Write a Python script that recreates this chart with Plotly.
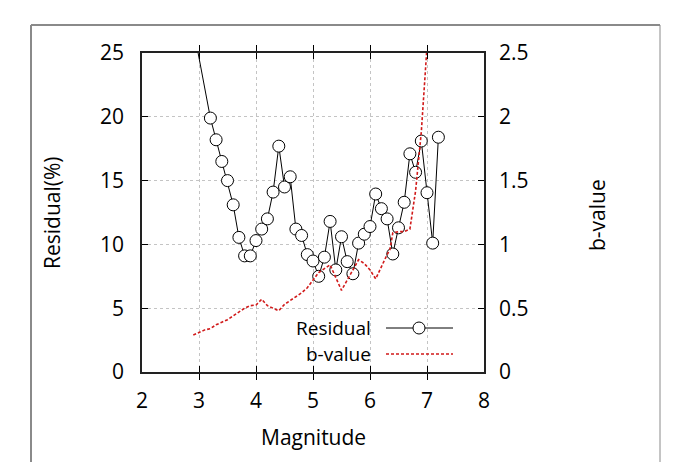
import plotly.graph_objects as go

# ---- data ----
resid_mag = [2.9, 3.2, 3.3, 3.4, 3.5, 3.6, 3.7, 3.8, 3.9, 4.0, 4.1, 4.2, 4.3, 4.4, 4.5, 4.6,
             4.7, 4.8, 4.9, 5.0, 5.1, 5.2, 5.3, 5.4, 5.5, 5.6, 5.7, 5.8, 5.9, 6.0, 6.1,
             6.2, 6.3, 6.4, 6.5, 6.6, 6.7, 6.8, 6.9, 7.0, 7.1, 7.2]
residual = [27.0, 19.9, 18.2, 16.5, 15.0, 13.1, 10.55, 9.1, 9.1, 10.3, 11.2, 12.0, 14.1, 17.7,
            14.5, 15.3, 11.2, 10.7, 9.2, 8.7, 7.5, 9.0, 11.8, 8.0, 10.6, 8.65, 7.7, 10.1,
            10.8, 11.4, 13.95, 12.8, 12.0, 9.25, 11.3, 13.3, 17.1, 15.65, 18.1, 14.05,
            10.1, 18.4]

b_mag = [2.9, 3.0, 3.1, 3.2, 3.3, 3.4, 3.5, 3.6, 3.7, 3.8, 3.9, 4.0, 4.1, 4.2, 4.3, 4.4,
         4.5, 4.6, 4.7, 4.8, 4.9, 5.0, 5.1, 5.2, 5.3, 5.4, 5.5, 5.6, 5.7, 5.8, 5.9, 6.0,
         6.1, 6.2, 6.3, 6.35, 6.4, 6.5, 6.6, 6.7, 6.8, 6.9, 7.0]
b_value = [0.29, 0.31, 0.33, 0.34, 0.37, 0.39, 0.41, 0.44, 0.47, 0.50, 0.52, 0.525, 0.57,
           0.52, 0.50, 0.48, 0.53, 0.56, 0.59, 0.62, 0.66, 0.72, 0.78, 0.81, 0.84, 0.74,
           0.64, 0.72, 0.80, 0.88, 0.85, 0.80, 0.73, 0.83, 0.92, 0.96, 1.09, 1.10, 1.10,
           1.12, 1.42, 1.88, 2.55]

x_ticks = [2, 3, 4, 5, 6, 7, 8]
y_ticks = [0, 5, 10, 15, 20, 25]
y2_ticks = [0, 0.5, 1, 1.5, 2, 2.5]

FONT = "Open Sans"
FS = 21
RED = "#d11a1a"
W, H = 676, 462
L, R, T, B = 142, 192, 53, 90
pw, ph = W - L - R, H - T - B


def px_x(p):
    return (p - L) / pw


def px_y(p):
    return (H - B - p) / ph


fig = go.Figure()
fig.add_trace(go.Scatter(
    x=resid_mag, y=residual, mode="lines+markers", name="Residual",
    line=dict(color="black", width=1),
    marker=dict(symbol="circle", size=12, color="white", line=dict(color="black", width=1)),
    showlegend=False, cliponaxis=True,
))
fig.add_trace(go.Scatter(
    x=b_mag, y=b_value, mode="lines", name="b-value", yaxis="y2",
    line=dict(color=RED, width=1.6, dash="3px,2px"),
    showlegend=False,
))

axis_common = dict(
    ticks="inside", ticklen=6, tickcolor="black", tickwidth=1,
    showgrid=True, gridcolor="#c4c4c4", griddash="dot", gridwidth=1,
    zeroline=False, tickfont=dict(family=FONT, size=FS, color="black"),
)

fig.update_layout(
    width=W, height=H,
    margin=dict(l=L, r=R, t=T, b=B, autoexpand=False),
    paper_bgcolor="white", plot_bgcolor="white",
    xaxis=dict(range=[2, 8], tickvals=x_ticks, showline=True, linecolor="#222", linewidth=1.5,
               mirror="allticks", ticklabelstandoff=9, **axis_common),
    yaxis=dict(range=[0, 25], tickvals=y_ticks, showline=True, linecolor="#222", linewidth=1.5,
               mirror=True, ticklabelstandoff=12, **axis_common),
    yaxis2=dict(range=[0, 2.5], tickvals=y2_ticks, overlaying="y", side="right",
                showline=True, linecolor="#222", linewidth=1.5,
                ticks="inside", ticklen=6, tickcolor="black", showgrid=False, zeroline=False,
                tickfont=dict(family=FONT, size=FS, color="black"), ticklabelstandoff=9),
    showlegend=False,
)

# axis titles
fig.add_annotation(text="Magnitude", x=px_x(313), y=px_y(437), xref="paper", yref="paper",
                   xanchor="center", yanchor="middle", showarrow=False,
                   font=dict(family=FONT, size=FS, color="black"))
fig.add_annotation(text="Residual(%)", x=px_x(52), y=px_y(213), xref="paper", yref="paper",
                   xanchor="center", yanchor="middle", showarrow=False, textangle=-90,
                   font=dict(family=FONT, size=FS, color="black"))
fig.add_annotation(text="b-value", x=px_x(597), y=px_y(215), xref="paper", yref="paper",
                   xanchor="center", yanchor="middle", showarrow=False, textangle=-90,
                   font=dict(family=FONT, size=FS, color="black"))

# custom legend (text left, sample right)
fig.add_annotation(text="Residual", x=px_x(373), y=px_y(328), xref="paper", yref="paper",
                   xanchor="right", yanchor="middle", showarrow=False,
                   font=dict(family=FONT, size=19, color="black"))
fig.add_annotation(text="b-value", x=px_x(373), y=px_y(354), xref="paper", yref="paper",
                   xanchor="right", yanchor="middle", showarrow=False,
                   font=dict(family=FONT, size=19, color="black"))
fig.add_shape(type="line", xref="paper", yref="paper", x0=px_x(386), x1=px_x(453),
              y0=px_y(328), y1=px_y(328), line=dict(color="black", width=1))
fig.add_shape(type="circle", xref="paper", yref="paper", x0=px_x(413), x1=px_x(425),
              y0=px_y(334), y1=px_y(322), fillcolor="white", line=dict(color="black", width=1))
fig.add_shape(type="line", xref="paper", yref="paper", x0=px_x(386), x1=px_x(453),
              y0=px_y(354), y1=px_y(354), line=dict(color=RED, width=1.6, dash="3px,2px"))

# outer frame (left, top, right)
frame = dict(color="#8a8a8a", width=2)
fig.add_shape(type="line", xref="paper", yref="paper", x0=px_x(31), x1=px_x(31),
              y0=px_y(25), y1=px_y(470), line=frame)
fig.add_shape(type="line", xref="paper", yref="paper", x0=px_x(31), x1=px_x(660),
              y0=px_y(25), y1=px_y(25), line=frame)
fig.add_shape(type="line", xref="paper", yref="paper", x0=px_x(660), x1=px_x(660),
              y0=px_y(25), y1=px_y(470), line=dict(color="#8a8a8a", width=1))

fig.write_html("out.html")
